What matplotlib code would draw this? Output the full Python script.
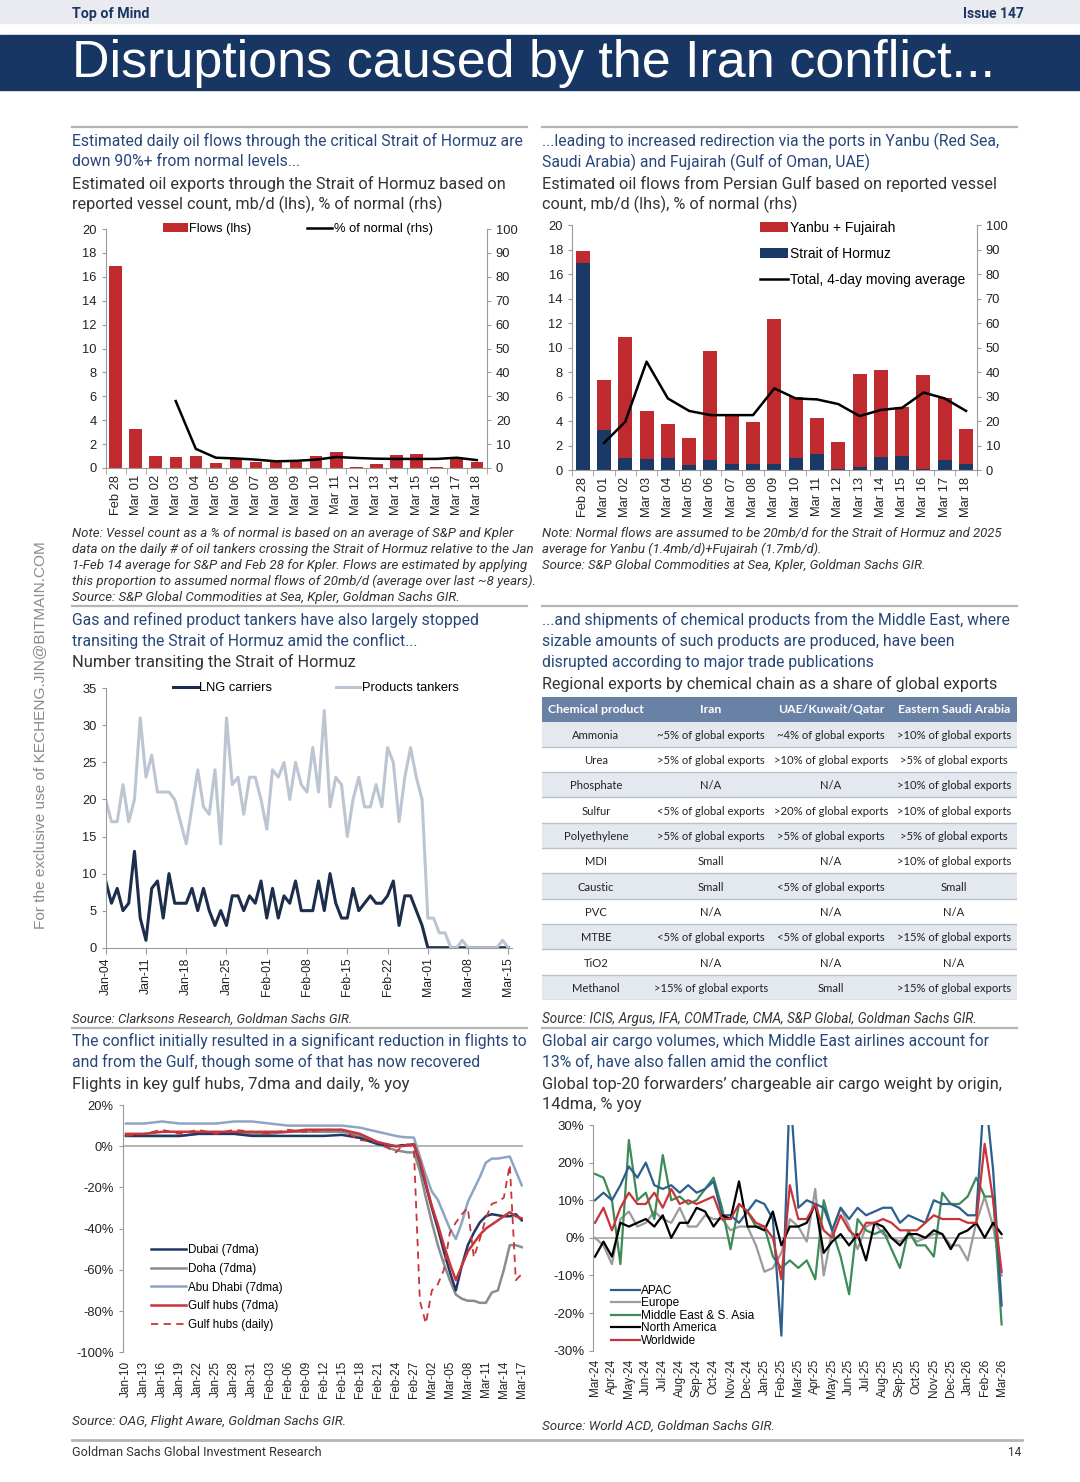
import numpy as np
import matplotlib
matplotlib.use("Agg")
import matplotlib.pyplot as plt
from matplotlib import font_manager
from matplotlib.patches import Rectangle
from matplotlib.lines import Line2D

nan = np.nan

# --- chart 1 / 2: daily oil flows ---
oil_days = ['Feb 28', 'Mar 01', 'Mar 02', 'Mar 03', 'Mar 04', 'Mar 05', 'Mar 06', 'Mar 07',
            'Mar 08', 'Mar 09', 'Mar 10', 'Mar 11', 'Mar 12', 'Mar 13', 'Mar 14', 'Mar 15',
            'Mar 16', 'Mar 17', 'Mar 18']
hormuz_flows = [16.9, 3.3, 1.0, 0.9, 1.0, 0.4, 0.8, 0.5, 0.5, 0.5, 1.0, 1.3, 0.1, 0.3, 1.1,
                1.15, 0.1, 0.8, 0.5]
hormuz_pct_normal = [nan, nan, nan, 28, 8, 4.3, 4, 3.5, 2.8, 3, 3.5, 4.6, 4.2, 3.9, 3.8, 3.8,
                     3.8, 4.3, 3.3]
yanbu_fujairah = [1.0, 4.1, 9.9, 3.9, 2.8, 2.25, 8.9, 4.05, 3.4, 11.8, 5.0, 2.95, 2.2, 7.55,
                  7.1, 4.05, 7.7, 5.1, 2.9]
total_ma4 = [nan, 11.1, 19.8, 44.3, 29.3, 24.2, 22.5, 22.5, 22.5, 33.4, 29.3, 28.9, 27.0, 22.1,
             24.6, 25.5, 31.7, 29.3, 24.2]

# --- chart 3: tankers transiting (daily, Jan-04 .. Mar-15) ---
transit_ticks = ['Jan-04', 'Jan-11', 'Jan-18', 'Jan-25', 'Feb-01', 'Feb-08', 'Feb-15',
                 'Feb-22', 'Mar-01', 'Mar-08', 'Mar-15']
lng_carriers = [9, 6, 8, 5, 6, 13, 4, 1, 8, 9, 4, 10, 6, 6, 6, 8, 5, 8, 5, 3, 5, 3, 7, 7, 5, 7,
                6, 9, 4, 8, 4, 7, 6, 9, 5, 5, 5, 9, 5, 10, 6, 4, 4, 8, 5, 6, 7, 6, 6, 7, 9, 3,
                7, 7, 5, 3, 0, 0, 0, 0, 0, 0, 0, 0, 0, 0, 0, 0, 0, 0, 0]
products_tankers = [20, 17, 17, 22, 17, 20, 31, 23, 26, 21, 21, 21, 20, 17, 14, 19, 24, 19, 18,
                    24, 14, 31, 22, 23, 18, 23, 23, 20, 16, 24, 23, 25, 20, 25, 22, 21, 27, 21,
                    32, 19, 23, 22, 15, 20, 23, 19, 19, 22, 19, 27, 25, 17, 23, 27, 23, 20, 4,
                    4, 2, 2, 0, 0, 1, 0, 0, 0, 0, 0, 0, 1, 0]

# --- chart 4: chemical table ---
table_header = ['Chemical product', 'Iran', 'UAE/Kuwait/Qatar', 'Eastern Saudi Arabia']
chem_products = ['Ammonia', 'Urea', 'Phosphate', 'Sulfur', 'Polyethylene', 'MDI', 'Caustic',
                 'PVC', 'MTBE', 'TiO2', 'Methanol']
chem_iran = ['~5% of global exports', '>5% of global exports', 'N/A', '<5% of global exports',
             '>5% of global exports', 'Small', 'Small', 'N/A', '<5% of global exports', 'N/A',
             '>15% of global exports']
chem_uae = ['~4% of global exports', '>10% of global exports', 'N/A', '>20% of global exports',
            '>5% of global exports', 'N/A', '<5% of global exports', 'N/A',
            '<5% of global exports', 'N/A', 'Small']
chem_saudi = ['>10% of global exports', '>5% of global exports', '>10% of global exports',
              '>10% of global exports', '>5% of global exports', '>10% of global exports',
              'Small', 'N/A', '>15% of global exports', 'N/A', '>15% of global exports']

# --- chart 5: flights, days after Jan-10 ---
flight_ticks = ['Jan-10', 'Jan-13', 'Jan-16', 'Jan-19', 'Jan-22', 'Jan-25', 'Jan-28', 'Jan-31',
                'Feb-03', 'Feb-06', 'Feb-09', 'Feb-12', 'Feb-15', 'Feb-18', 'Feb-21', 'Feb-24',
                'Feb-27', 'Mar-02', 'Mar-05', 'Mar-08', 'Mar-11', 'Mar-14', 'Mar-17']
flight_day = [0, 3, 6, 9, 12, 15, 18, 21, 24, 27, 30, 33, 36, 39, 42, 45, 46, 47, 48, 49, 50,
              51, 52, 53, 54, 55, 56, 57, 58, 59, 60, 61, 62, 63, 64, 65, 66]
dubai_7dma = [5, 5, 5, 5, 6, 6, 6, 5, 5, 5, 5, 5, 5.5, 4, 1, 0, 0.5, 0.5, 1, -8, -19, -30, -40,
              -51, -61, -70, -58, -48, -42, -37, -34, -33, -33.5, -34, -34, -33, -36]
doha_7dma = [5, 5, 5, 5, 6, 6, 6, 6, 6, 7, 7, 7, 7, 5, 1, -2, -2.5, -3, -3, -12, -25, -37, -48,
             -57, -65, -72, -74, -75, -75, -76, -76, -71, -70, -60, -48, -48, -49]
abudhabi_7dma = [11, 11, 12, 11, 11, 11, 12, 12, 11, 10, 10, 10, 10, 9, 7, 5, 4.5, 4.3, 4.2, -5,
                 -14, -22, -26, -33, -40, -45, -37, -27, -21, -15, -8, -6, -6, -5.5, -5, -12, -19]
gulf_7dma = [6, 6, 7, 7, 7, 7, 7, 7, 7, 7, 8, 8, 8, 6, 2, 0, 0, 0.5, 1, -7, -18, -29, -38, -48,
             -57, -65, -58, -51, -47, -43, -40, -38, -36, -34, -32, -34, -35]
gulf_daily = [5, 6, 8, 6, 8, 6, 8, 7, 6, 8, 7, 8, 8, 3, 2, -3, 0, 1, -1, -75, -86, -70, -67, -60,
              -42, -37, -33, -30, -54, -45, -35, -28, -27, -25, -9, -65, -62]

# --- chart 6: air cargo, half-month steps from Mar-24 ---
cargo_ticks = ['Mar-24', 'Apr-24', 'May-24', 'Jun-24', 'Jul-24', 'Aug-24', 'Sep-24', 'Oct-24',
               'Nov-24', 'Dec-24', 'Jan-25', 'Feb-25', 'Mar-25', 'Apr-25', 'May-25', 'Jun-25',
               'Jul-25', 'Aug-25', 'Sep-25', 'Oct-25', 'Nov-25', 'Dec-25', 'Jan-26', 'Feb-26',
               'Mar-26']
cargo_apac = [10, 12, 10, 14, 19, 16, 20, 14, 13, 14, 12, 14, 12, 13, 15, 6, 6, 4, 7, 10, 9, 5,
              -26, 40, 8, 10, 9, 8, 2, 8, 5, 8, 6, 7, 8, 8, 4, 6, 5, 4, 10, 9, 9, 8, 6, 6, 40,
              18, -18]
cargo_europe = [0, -2, -7, 5, 7, 3, 4, 7, 5, 4, 8, 3, 3, 6, 5, 5, 2, 3, 3, -2, -9, -8, -4, 5, 3,
                -1, 13, -10, 2, 8, 3, -3, 3, 4, 1, 0, -1, 1, -1, 0, 1, 1, -2, -2, -6, 4, 11, 3,
                -10]
cargo_mideast = [17, 16, 10, -7, 26, 10, 12, 5, 22, 10, 11, 9, 10, 13, 16, 8, -3, 9, 7, 3, 3,
                 -5, -8, -6, -8, -6, -11, 10, 2, -5, -15, 5, 2, 1, 2, -3, -8, 2, -2, -2, -5, 12,
                 9, 9, 11, 16, 11, 11, -23]
cargo_namerica = [-5, -1, -5, 4, 3, 4, 5, 3, 6, 0, 4, 4, 8, 7, 3, 6, 5, 15, 3, 3, 2, 7, -2, 3,
                  3, 4, 9, -4, -1, 1, -2, 1, -6, 4, 3, 0, -2, 1, 1, 0, 2, 1, -3, 1, 2, 4, 0, 4, 1]
cargo_world = [4, 8, 2, 8, 12, 9, 9, 12, 8, 13, 9, 10, 9, 10, 11, 5, 5, 9, 7, 4, 3, 0, -11, 14,
               5, 5, 9, 2, 0, 6, 2, 0, 4, 4, 5, 4, 2, 2, 2, 4, 6, 5, 5, 5, 4, 4, 25, 10, -9]

# ---------------------------------------------------------------------------
names = {f.name for f in font_manager.fontManager.ttflist}
NARROW = 'Liberation Sans Narrow' if 'Liberation Sans Narrow' in names else 'Roboto'
TABF = 'Lato' if 'Lato' in names else 'DejaVu Sans'
plt.rcParams['font.family'] = ['Liberation Sans', 'DejaVu Sans']

NAVY = '#1b3966'
RED = '#be2a2e'
TBLUE = '#27467a'
TXT = '#333333'
SPINE = '#9a9a9a'

W, H = 1080, 1482
fig = plt.figure(figsize=(W / 100, H / 100), dpi=100)
renderer = fig.canvas.get_renderer()


def fx(x):
    return x / W


def fy(y):
    return 1 - y / H


def axes_px(l, t, r, b):
    return fig.add_axes([fx(l), fy(b), (r - l) / W, (b - t) / H])


def put(x, y, s, size=10, w=None, **kw):
    kw.setdefault('va', 'center')
    t = fig.text(fx(x), fy(y), s, fontsize=size, **kw)
    if w:
        bb = t.get_window_extent(renderer)
        t.set_fontsize(size * w / bb.width)
    return t


def block(x, y0, step, lines, w, **kw):
    t = put(x, y0, lines[0], w=w, **kw)
    size = t.get_fontsize()
    for i, s in enumerate(lines[1:], 1):
        put(x, y0 + i * step, s, size=size, **kw)


def hline(x0, x1, y, color='#b4b4b4', lw=1.6):
    fig.add_artist(Line2D([fx(x0), fx(x1)], [fy(y), fy(y)], color=color, lw=lw,
                          transform=fig.transFigure))


def style(ax, size=9.3):
    ax.spines['top'].set_visible(False)
    for s in ax.spines.values():
        s.set_color(SPINE)
    ax.tick_params(labelsize=size, colors='#222222', length=3, color=SPINE)


# ---- page furniture ----
fig.add_artist(Rectangle((0, fy(23)), 1, 23 / H, transform=fig.transFigure,
                         color='#e9ebf0', zorder=0))
fig.add_artist(Rectangle((0, fy(90)), 1, (90 - 35) / H, transform=fig.transFigure,
                         color='#173664', zorder=0))
put(72, 14, 'Top of Mind', w=78, family=NARROW, weight='bold', color='#1c3664')
put(1024, 14, 'Issue 147', w=61, family=NARROW, weight='bold', color='#1c3664', ha='right')
put(72, 64, 'Disruptions caused by the Iran conflict...', w=923, color='white')

hline(72, 527, 127)
hline(542, 1017, 127)
hline(72, 527, 606)
hline(542, 1017, 606)
hline(72, 527, 1028)
hline(542, 1017, 1028)
hline(72, 1022, 1440, lw=2)
put(72, 1453, 'Goldman Sachs Global Investment Research', w=250, family=NARROW, color=TXT)
put(1021, 1453, '14', size=8.5, family=NARROW, color=TXT, ha='right')

wm = put(40, 735, 'For the exclusive use of KECHENG.JIN@BITMAIN.COM', w=390,
         color='#8a8a8a', ha='center')
wm.set_rotation(90)

# titles
block(72, 141, 21, ['Estimated daily oil flows through the critical Strait of Hormuz are',
                    'down 90%+ from normal levels...'], 452, family=NARROW, color=TBLUE)
block(72, 184, 20.5, ['Estimated oil exports through the Strait of Hormuz based on',
                      'reported vessel count, mb/d (lhs), % of normal (rhs)'], 435,
      family=NARROW, color=TXT)
block(542, 141, 21, ['...leading to increased redirection via the ports in Yanbu (Red Sea,',
                     'Saudi Arabia) and Fujairah (Gulf of Oman, UAE)'], 458,
      family=NARROW, color=TBLUE)
block(542, 184, 20.5, ['Estimated oil flows from Persian Gulf based on reported vessel',
                       'count, mb/d (lhs), % of normal (rhs)'], 456, family=NARROW, color=TXT)

block(72, 533, 16, ['Note: Vessel count as a % of normal is based on an average of S&P and Kpler',
                    'data on the daily # of oil tankers crossing the Strait of Hormuz relative to the Jan',
                    '1-Feb 14 average for S&P and Feb 28 for Kpler. Flows are estimated by applying',
                    'this proportion to assumed normal flows of 20mb/d (average over last ~8 years).',
                    'Source: S&P Global Commodities at Sea, Kpler, Goldman Sachs GIR.'], 439,
      family=NARROW, style='italic', color=TXT)
block(542, 533, 16, ['Note: Normal flows are assumed to be 20mb/d for the Strait of Hormuz and 2025',
                     'average for Yanbu (1.4mb/d)+Fujairah (1.7mb/d).',
                     'Source: S&P Global Commodities at Sea, Kpler, Goldman Sachs GIR.'], 457,
      family=NARROW, style='italic', color=TXT)

block(72, 620, 21, ['Gas and refined product tankers have also largely stopped',
                    'transiting the Strait of Hormuz amid the conflict...'], 407,
      family=NARROW, color=TBLUE)
put(72, 662, 'Number transiting the Strait of Hormuz', w=282, family=NARROW, color=TXT)
block(542, 620, 21, ['...and shipments of chemical products from the Middle East, where',
                     'sizable amounts of such products are produced, have been',
                     'disrupted according to major trade publications'], 470,
      family=NARROW, color=TBLUE)
put(542, 684, 'Regional exports by chemical chain as a share of global exports', w=456,
    family=NARROW, color=TXT)
put(72, 1019, 'Source: Clarksons Research, Goldman Sachs GIR.', w=279, family=NARROW,
    style='italic', color=TXT)
put(542, 1019, 'Source: ICIS, Argus, IFA, COMTrade, CMA, S&P Global, Goldman Sachs GIR.', w=434,
    family=NARROW, style='italic', color=TXT)

block(72, 1041, 21, ['The conflict initially resulted in a significant reduction in flights to',
                     'and from the Gulf, though some of that has now recovered'], 455,
      family=NARROW, color=TBLUE)
put(72, 1084, 'Flights in key gulf hubs, 7dma and daily, % yoy', w=339, family=NARROW, color=TXT)
block(542, 1041, 21, ['Global air cargo volumes, which Middle East airlines account for',
                      '13% of, have also fallen amid the conflict'], 447,
      family=NARROW, color=TBLUE)
block(542, 1084, 20.5, ['Global top-20 forwarders\u2019 chargeable air cargo weight by origin,',
                        '14dma, % yoy'], 458, family=NARROW, color=TXT)
put(72, 1422, 'Source: OAG, Flight Aware, Goldman Sachs GIR.', w=274, family=NARROW,
    style='italic', color=TXT)
put(542, 1426, 'Source: World ACD, Goldman Sachs GIR.', w=233, family=NARROW,
    style='italic', color=TXT)

# ---- chart 1 ----
x = np.arange(len(oil_days))
ax1 = axes_px(105.5, 229, 486.8, 468)
style(ax1)
b1 = ax1.bar(x, hormuz_flows, width=0.62, color=RED, label='Flows (lhs)')
ax1.set_xlim(-0.5, len(x) - 0.5)
ax1.set_ylim(0, 20)
ax1.set_yticks(range(0, 21, 2))
ax1.set_xticks(x)
ax1.set_xticklabels(oil_days, rotation=90)
ax1.set_xticks(np.arange(len(x) + 1) - 0.5, minor=True)
ax1.tick_params(axis='x', which='major', length=0, pad=5)
ax1.tick_params(axis='x', which='minor', length=4, color=SPINE)
ax1.spines['right'].set_visible(False)
r1 = ax1.twinx()
style(r1)
for s in ['left', 'bottom']:
    r1.spines[s].set_visible(False)
l1, = r1.plot(x, hormuz_pct_normal, color='black', lw=1.8, label='% of normal (rhs)')
r1.set_ylim(0, 100)
r1.set_yticks(range(0, 101, 10))
r1.legend([b1, l1], ['Flows (lhs)', '% of normal (rhs)'], loc='upper left',
          bbox_to_anchor=(fx(163), fy(223)), bbox_transform=fig.transFigure, ncol=2,
          frameon=False, fontsize=9.3, handlelength=1.9, handletextpad=0.15,
          columnspacing=4.3, borderpad=0, borderaxespad=0)

# ---- chart 2 ----
ax2 = axes_px(572, 225, 976.7, 470.3)
style(ax2)
b2a = ax2.bar(x, hormuz_flows, width=0.66, color=NAVY)
b2b = ax2.bar(x, yanbu_fujairah, width=0.66, bottom=hormuz_flows, color=RED)
ax2.set_xlim(-0.5, len(x) - 0.5)
ax2.set_ylim(0, 20)
ax2.set_yticks(range(0, 21, 2))
ax2.set_xticks(x)
ax2.set_xticklabels(oil_days, rotation=90)
ax2.set_xticks(np.arange(len(x) + 1) - 0.5, minor=True)
ax2.tick_params(axis='x', which='major', length=0, pad=5)
ax2.tick_params(axis='x', which='minor', length=4, color=SPINE)
ax2.spines['right'].set_visible(False)
r2 = ax2.twinx()
style(r2)
for s in ['left', 'bottom']:
    r2.spines[s].set_visible(False)
l2, = r2.plot(x, total_ma4, color='black', lw=1.8)
r2.set_ylim(0, 100)
r2.set_yticks(range(0, 101, 10))
r2.legend([b2b, b2a, l2], ['Yanbu + Fujairah', 'Strait of Hormuz', 'Total, 4-day moving average'],
          loc='upper left', bbox_to_anchor=(fx(760), fy(221)), bbox_transform=fig.transFigure,
          frameon=False, fontsize=10, handlelength=2.0, handletextpad=0.15,
          labelspacing=0.85, borderpad=0, borderaxespad=0)

# ---- chart 3 ----
d = np.arange(len(products_tankers))
ax3 = axes_px(105.7, 688.3, 511.8, 947.7)
style(ax3)
ax3.spines['right'].set_visible(False)
la, = ax3.plot(d, lng_carriers, color='#1c2e4c', lw=2.2)
lb, = ax3.plot(d, products_tankers, color='#bcc6d3', lw=2.2)
ax3.set_xlim(0, 70.6)
ax3.set_ylim(0, 35)
ax3.set_yticks(range(0, 36, 5))
ax3.set_xticks(np.arange(0, 71, 7))
ax3.set_xticklabels(transit_ticks, rotation=90, fontsize=8.8)
ax3.tick_params(axis='x', length=4, pad=3)
ax3.legend([la, lb], ['LNG carriers', 'Products tankers'], loc='upper left',
           bbox_to_anchor=(fx(173), fy(682)), bbox_transform=fig.transFigure, ncol=2,
           frameon=False, fontsize=9.3, handlelength=1.9, handletextpad=0.15,
           columnspacing=4.9, borderpad=0, borderaxespad=0)

# ---- chart 4: table ----
axt = axes_px(542, 697, 1017, 1000)
axt.set_xlim(542, 1017)
axt.set_ylim(1000, 697)
axt.axis('off')
hdr_h = 24.5
row_h = (1000 - 697 - hdr_h) / len(chem_products)
col_x = [596, 711, 831, 954]
axt.add_patch(Rectangle((542, 697), 475, hdr_h, color='#6a81a6', lw=0))
probe = axt.text(0, 0, '>10% of global exports', family=TABF, fontsize=8)
cell_size = 8 * 115.7 / probe.get_window_extent(renderer).width
probe.remove()
probe = axt.text(0, 0, 'Eastern Saudi Arabia', family=TABF, fontsize=8, weight='bold')
head_size = 8 * 113.7 / probe.get_window_extent(renderer).width
probe.remove()
axt.text(548, 697 + hdr_h / 2, table_header[0], family=TABF, fontsize=head_size,
         weight='bold', color='white', ha='left', va='center')
for cx, s in zip(col_x[1:], table_header[1:]):
    axt.text(cx, 697 + hdr_h / 2, s, family=TABF, fontsize=head_size, weight='bold',
             color='white', ha='center', va='center')
for i, row in enumerate(zip(chem_products, chem_iran, chem_uae, chem_saudi)):
    top = 697 + hdr_h + i * row_h
    if i % 2 == 0:
        axt.add_patch(Rectangle((542, top), 475, row_h, color='#e4e8ef', lw=0))
    axt.plot([542, 1017], [top + row_h, top + row_h], color='#b9c1cd', lw=1)
    for cx, s in zip(col_x, row):
        axt.text(cx, top + row_h / 2 + 1, s, family=TABF, fontsize=cell_size, color='#222222',
                 ha='center', va='center')

# ---- chart 5 ----
ax5 = axes_px(122.7, 1105, 523, 1352.3)
style(ax5, 9.3)
ax5.spines['right'].set_visible(False)
ax5.spines['bottom'].set_visible(False)
ax5.axhline(0, color='#a8a8a8', lw=1.2, zorder=1)
p1, = ax5.plot(flight_day, abudhabi_7dma, color='#8ea5c2', lw=1.8)
p2, = ax5.plot(flight_day, doha_7dma, color='#8c8c8c', lw=1.8)
p3, = ax5.plot(flight_day, dubai_7dma, color='#1f3864', lw=1.8)
p5, = ax5.plot(flight_day, gulf_daily, color='#c8343a', lw=1.3, dashes=(4, 3))
p4, = ax5.plot(flight_day, gulf_7dma, color='#c8343a', lw=1.8)
ax5.set_xlim(-0.55, 66.2)
ax5.set_ylim(-100, 20)
ax5.set_yticks(range(-100, 21, 20))
ax5.set_yticklabels([f'{v}%' for v in range(-100, 21, 20)])
ax5.set_xticks(np.arange(0, 67, 3))
ax5.set_xticklabels(flight_ticks, rotation=90, fontsize=8.5)
ax5.tick_params(axis='x', length=0, pad=6)
ax5.legend([p3, p2, p1, p4, p5], ['Dubai (7dma)', 'Doha (7dma)', 'Abu Dhabi (7dma)',
                                  'Gulf hubs (7dma)', 'Gulf hubs (daily)'],
           loc='upper left', bbox_to_anchor=(fx(151), fy(1244)), bbox_transform=fig.transFigure,
           frameon=False, fontsize=8.4, handlelength=3.0, handletextpad=0.15,
           labelspacing=0.58, borderpad=0, borderaxespad=0)

# ---- chart 6 ----
m = np.arange(len(cargo_world)) / 2
ax6 = axes_px(593.3, 1125, 1003.3, 1350.7)
style(ax6, 9.5)
ax6.spines['right'].set_visible(False)
ax6.spines['bottom'].set_visible(False)
ax6.axhline(0, color='#a8a8a8', lw=1.2, zorder=1)
q2, = ax6.plot(m, cargo_europe, color='#9b9b9b', lw=1.6)
q3, = ax6.plot(m, cargo_mideast, color='#3d8b57', lw=1.6)
q1, = ax6.plot(m, cargo_apac, color='#2d5f8c', lw=1.6)
q4, = ax6.plot(m, cargo_namerica, color='black', lw=1.6)
q5, = ax6.plot(m, cargo_world, color='#c8343a', lw=1.6)
ax6.set_xlim(-0.1, 24.1)
ax6.set_ylim(-30, 30)
ax6.set_yticks(range(-30, 31, 10))
ax6.set_yticklabels([f'{v}%' for v in range(-30, 31, 10)])
ax6.set_xticks(np.arange(0, 25, 1))
ax6.set_xticklabels(cargo_ticks, rotation=90, fontsize=8.5)
ax6.tick_params(axis='x', length=0, pad=6)
ax6.legend([q1, q2, q3, q4, q5], ['APAC', 'Europe', 'Middle East & S. Asia', 'North America',
                                  'Worldwide'],
           loc='upper left', bbox_to_anchor=(fx(611), fy(1285)), bbox_transform=fig.transFigure,
           frameon=False, fontsize=8.6, handlelength=2.4, handletextpad=0.1,
           labelspacing=0.04, borderpad=0, borderaxespad=0)

fig.savefig('out.png', dpi=100)
